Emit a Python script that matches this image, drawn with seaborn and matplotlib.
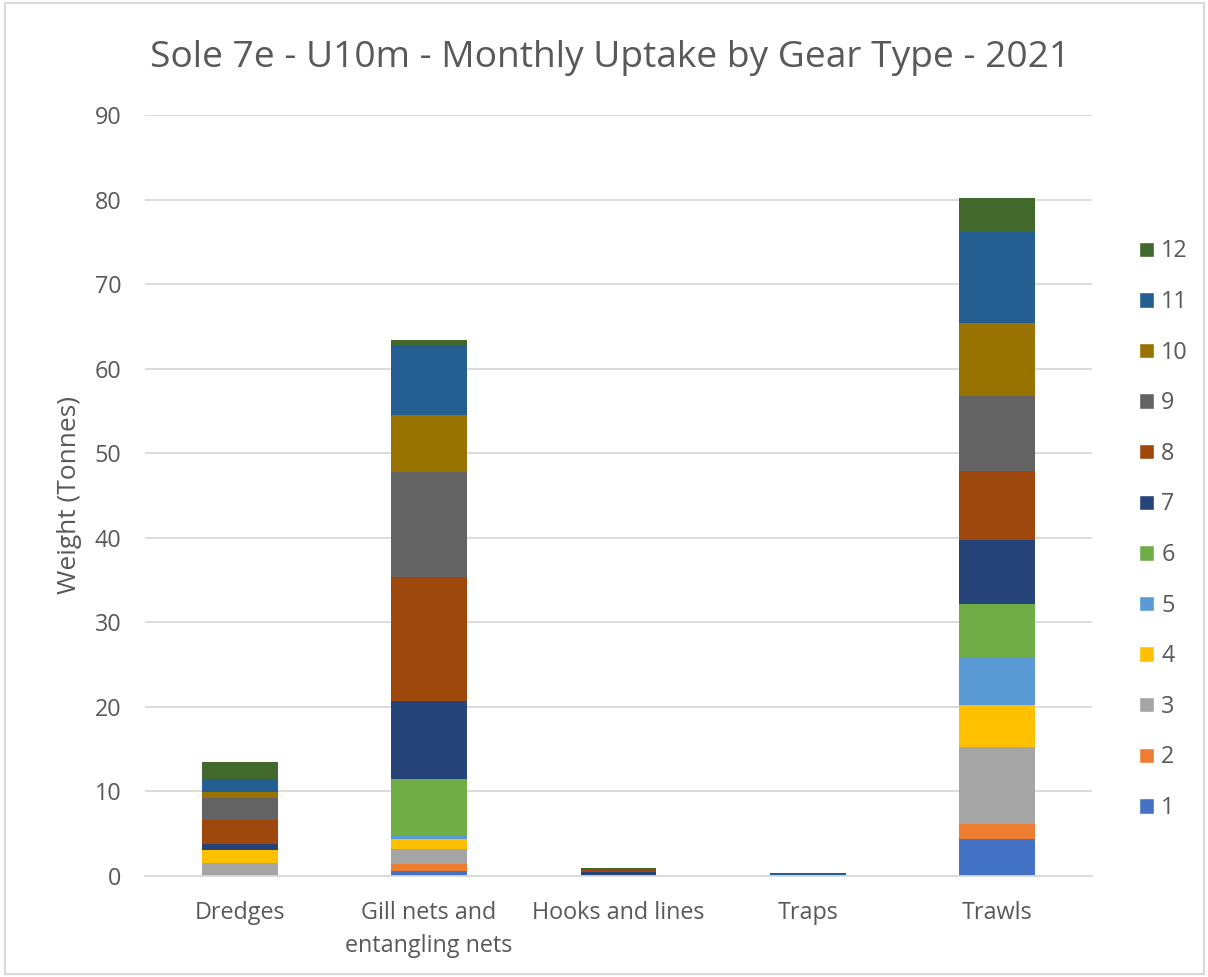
import matplotlib
matplotlib.use("Agg")
import matplotlib.pyplot as plt
from matplotlib.patches import Patch, Rectangle
import pandas as pd
import seaborn as sns

gears = ["Dredges", "Gill nets and\nentangling nets", "Hooks and lines", "Traps", "Trawls"]
months = [1, 2, 3, 4, 5, 6, 7, 8, 9, 10, 11, 12]

# tonnes per month, one list per gear type
dredges = [0, 0, 1.48, 1.62, 0, 0, 0.66, 2.89, 2.6, 0.67, 1.5, 2.1]
gill_nets = [0.6, 0.83, 1.77, 1.2, 0.35, 6.7, 9.25, 14.7, 12.35, 6.75, 8.3, 0.6]
hooks = [0.1, 0, 0.05, 0, 0, 0, 0.3, 0.25, 0.05, 0, 0.05, 0.2]
traps = [0.1, 0, 0, 0, 0, 0, 0, 0, 0, 0, 0.2, 0]
trawls = [4.4, 1.8, 9.1, 4.9, 5.6, 6.4, 7.5, 8.2, 8.9, 8.6, 10.75, 4.0]

colors = ["#4472C4", "#ED7D31", "#A5A5A5", "#FFC000", "#5B9BD5", "#70AD47",
          "#264478", "#9E480E", "#636363", "#997300", "#255E91", "#43682B"]

rows = []
for gear, vals in zip(gears, [dredges, gill_nets, hooks, traps, trawls]):
    for m, v in zip(months, vals):
        rows.append({"gear": gear, "month": m, "weight": v})
df = pd.DataFrame(rows)

sns.set_style("white")
plt.rcParams["font.family"] = ["Open Sans", "DejaVu Sans"]

fig = plt.figure(figsize=(12.08, 9.77), dpi=100)
ax = fig.add_axes([0.12, 0.1034, 0.784, 0.7789])

# histplot stacks the last hue level at the bottom
order = months[::-1]
palette = dict(zip(months, colors))
sns.histplot(data=df, x="gear", hue="month", weights="weight", multiple="stack",
             hue_order=order, palette=palette, shrink=0.4, discrete=True,
             alpha=1, edgecolor="none", linewidth=0, legend=False, ax=ax)

ax.set_ylim(0, 90)
ax.set_xlim(-0.5, 4.5)
ax.set_yticks(range(0, 91, 10))
ax.yaxis.grid(True, color="#D9D9D9", linewidth=1.3)
ax.set_axisbelow(True)
for s in ["top", "right", "left"]:
    ax.spines[s].set_visible(False)
ax.spines["bottom"].set_color("#D9D9D9")
ax.spines["bottom"].set_linewidth(1.3)
ax.tick_params(axis="both", length=0, labelsize=16.8, labelcolor="#595959")
ax.tick_params(axis="y", pad=17)
ax.tick_params(axis="x", pad=18)
for lab in ax.get_xticklabels():
    lab.set_linespacing(1.5)
ax.set_xlabel("")
ax.set_ylabel("Weight (Tonnes)", fontsize=19, color="#595959")
ax.yaxis.set_label_coords(-0.066, 0.5)

fig.text(0.5054, 1 - 67 / 977, "Sole 7e - U10m - Monthly Uptake by Gear Type - 2021",
         ha="center", va="baseline", fontsize=26.7, color="#595959")

handles = [Patch(facecolor=palette[m], label=str(m)) for m in order]
ax.legend(handles=handles, loc="center left", bbox_to_anchor=(1.05, 0.455),
          frameon=False, fontsize=16.8, labelcolor="#595959", borderpad=0,
          borderaxespad=0, handlelength=0.64, handleheight=0.64,
          handletextpad=0.3, labelspacing=1.14)

fig.patches.append(Rectangle((0.004, 0.003), 0.993, 0.994, transform=fig.transFigure,
                             fill=False, edgecolor="#D9D9D9", linewidth=1.5))

fig.savefig("out.png", dpi=100)
